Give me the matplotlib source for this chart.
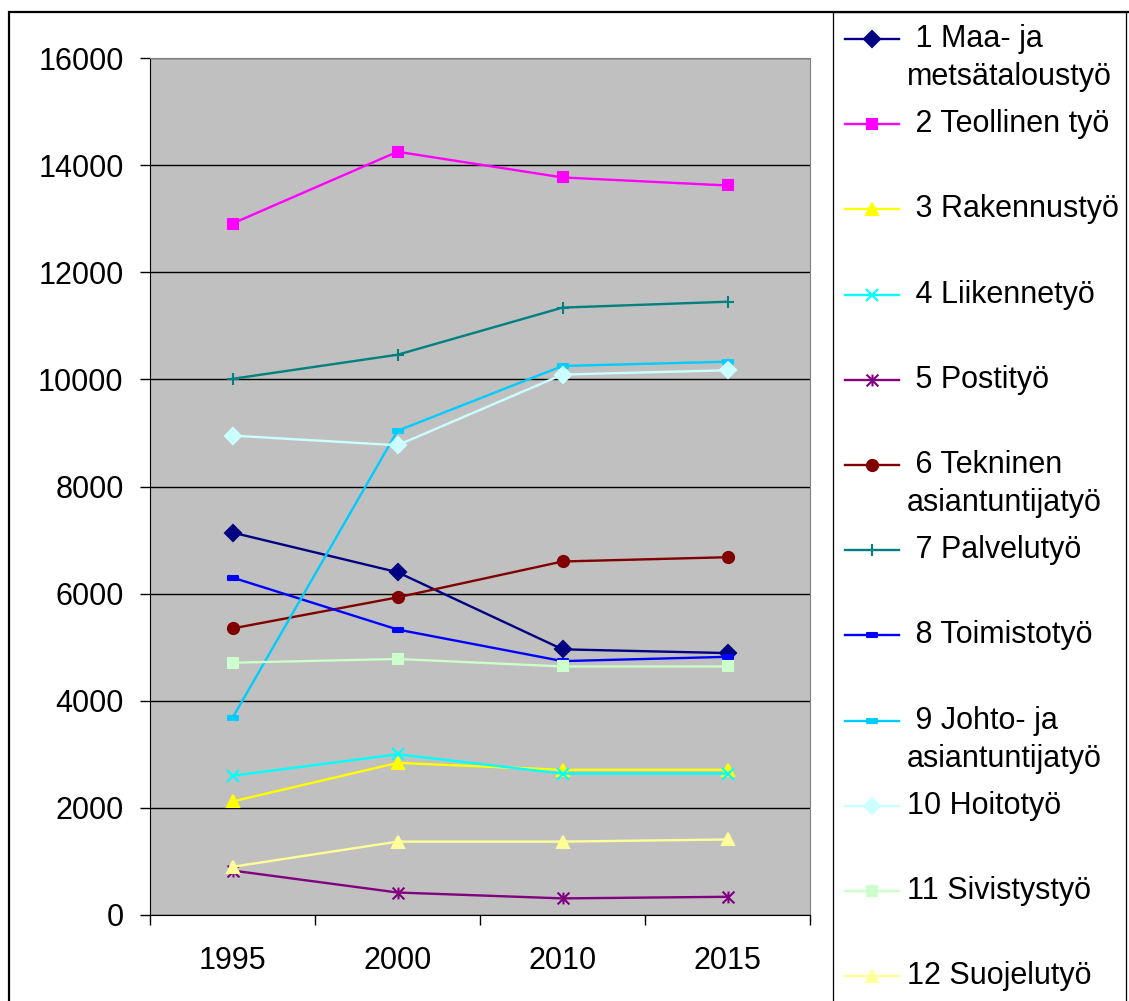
import matplotlib
matplotlib.use("Agg")
import matplotlib.pyplot as plt
from matplotlib.lines import Line2D
from matplotlib.patches import Rectangle
from matplotlib.path import Path

plt.rcParams["font.family"] = ["Liberation Sans", "DejaVu Sans"]

W, H = 1129, 1001

years = ["1995", "2000", "2010", "2015"]

maa = [7140, 6400, 4960, 4890]
teollinen = [12910, 14250, 13770, 13620]
rakennus = [2120, 2840, 2710, 2710]
liikenne = [2600, 3000, 2640, 2640]
posti = [830, 420, 310, 340]
tekninen = [5350, 5930, 6600, 6680]
palvelu = [10010, 10460, 11340, 11450]
toimisto = [6300, 5330, 4740, 4820]
johto = [3680, 9040, 10250, 10330]
hoito = [8950, 8770, 10090, 10170]
sivistys = [4710, 4780, 4640, 4640]
suojelu = [900, 1370, 1370, 1410]

labels = [" 1 Maa- ja\nmetsätaloustyö", " 2 Teollinen työ", " 3 Rakennustyö",
          " 4 Liikennetyö", " 5 Postityö", " 6 Tekninen\nasiantuntijatyö",
          " 7 Palvelutyö", " 8 Toimistotyö", " 9 Johto- ja\nasiantuntijatyö",
          "10 Hoitotyö", "11 Sivistystyö", "12 Suojelutyö"]

# excel style markers
dash = Path([(-1, -0.4), (1, -0.4), (1, 0.4), (-1, 0.4), (-1, -0.4)],
            [Path.MOVETO, Path.LINETO, Path.LINETO, Path.LINETO, Path.CLOSEPOLY])
star = Path([(-1, -1), (1, 1), (-1, 1), (1, -1), (0, -1), (0, 1)],
            [Path.MOVETO, Path.LINETO, Path.MOVETO, Path.LINETO, Path.MOVETO, Path.LINETO])

series = [maa, teollinen, rakennus, liikenne, posti, tekninen,
          palvelu, toimisto, johto, hoito, sivistys, suojelu]
colors = ["#000080", "#FF00FF", "#FFFF00", "#00FFFF", "#800080", "#800000",
          "#008080", "#0000FF", "#00CCFF", "#CCFFFF", "#CCFFCC", "#FFFF99"]
markers = ["D", "s", "^", "x", star, "o", "+", dash, dash, "D", "s", "^"]
msizes = [8.5, 7.5, 9, 8.5, 8.5, 8, 9, 6.5, 6.5, 8.5, 7.5, 9]

fig = plt.figure(figsize=(W / 100, H / 100), dpi=100)
ax = fig.add_axes([150 / W, 86 / H, 660 / W, 857 / H])
ax.set_facecolor("#C0C0C0")

x = list(range(len(years)))
for vals, c, m, ms in zip(series, colors, markers, msizes):
    filled = m not in ("x", "+", star)
    ax.plot(x, vals, color=c, lw=1.7, marker=m, ms=ms,
            mfc=c if filled else "none", mec=c, mew=1.5)

ax.set_ylim(0, 16000)
ax.set_xlim(-0.5, len(years) - 0.5)
ax.set_yticks(range(0, 16001, 2000))
ax.yaxis.grid(True, color="black", lw=1)
ax.set_axisbelow(True)
ax.tick_params(axis="y", labelsize=22, length=7, width=1, pad=12)

ax.set_xticks([i - 0.5 for i in range(len(years) + 1)])
ax.set_xticklabels([])
ax.set_xticks(x, minor=True)
ax.set_xticklabels(years, minor=True)
ax.tick_params(axis="x", which="major", length=7, width=1)
ax.tick_params(axis="x", which="minor", length=0, labelsize=22, pad=22)

for side in ["left", "bottom"]:
    ax.spines[side].set_color("black")
for side in ["top", "right"]:
    ax.spines[side].set_color("#808080")


def fx(px):
    return px / W


def fy(py):
    return 1 - py / H


# outer chart frame and legend box
fig.add_artist(Rectangle((fx(9), fy(1020)), fx(1140) - fx(9), fy(12) - fy(1020),
                         transform=fig.transFigure, fill=False, ec="black", lw=1.6))
fig.add_artist(Rectangle((fx(833), fy(1020)), fx(1126) - fx(833), fy(12) - fy(1020),
                         transform=fig.transFigure, fill=False, ec="black", lw=0.9))

for i, (lab, c, m, ms) in enumerate(zip(labels, colors, markers, msizes)):
    yc = 39 + 85.2 * i
    filled = m not in ("x", "+", star)
    fig.add_artist(Line2D([fx(845), fx(899)], [fy(yc), fy(yc)], transform=fig.transFigure,
                          color=c, lw=1.7))
    fig.add_artist(Line2D([fx(872)], [fy(yc)], transform=fig.transFigure, color=c,
                          marker=m, ms=ms, mfc=c if filled else "none", mec=c, mew=1.5))
    for k, line in enumerate(lab.split("\n")):
        fig.text(fx(907), fy(yc + 38 * k), line, fontsize=22, va="center", ha="left")

fig.savefig("out.png", dpi=100, facecolor="white")
